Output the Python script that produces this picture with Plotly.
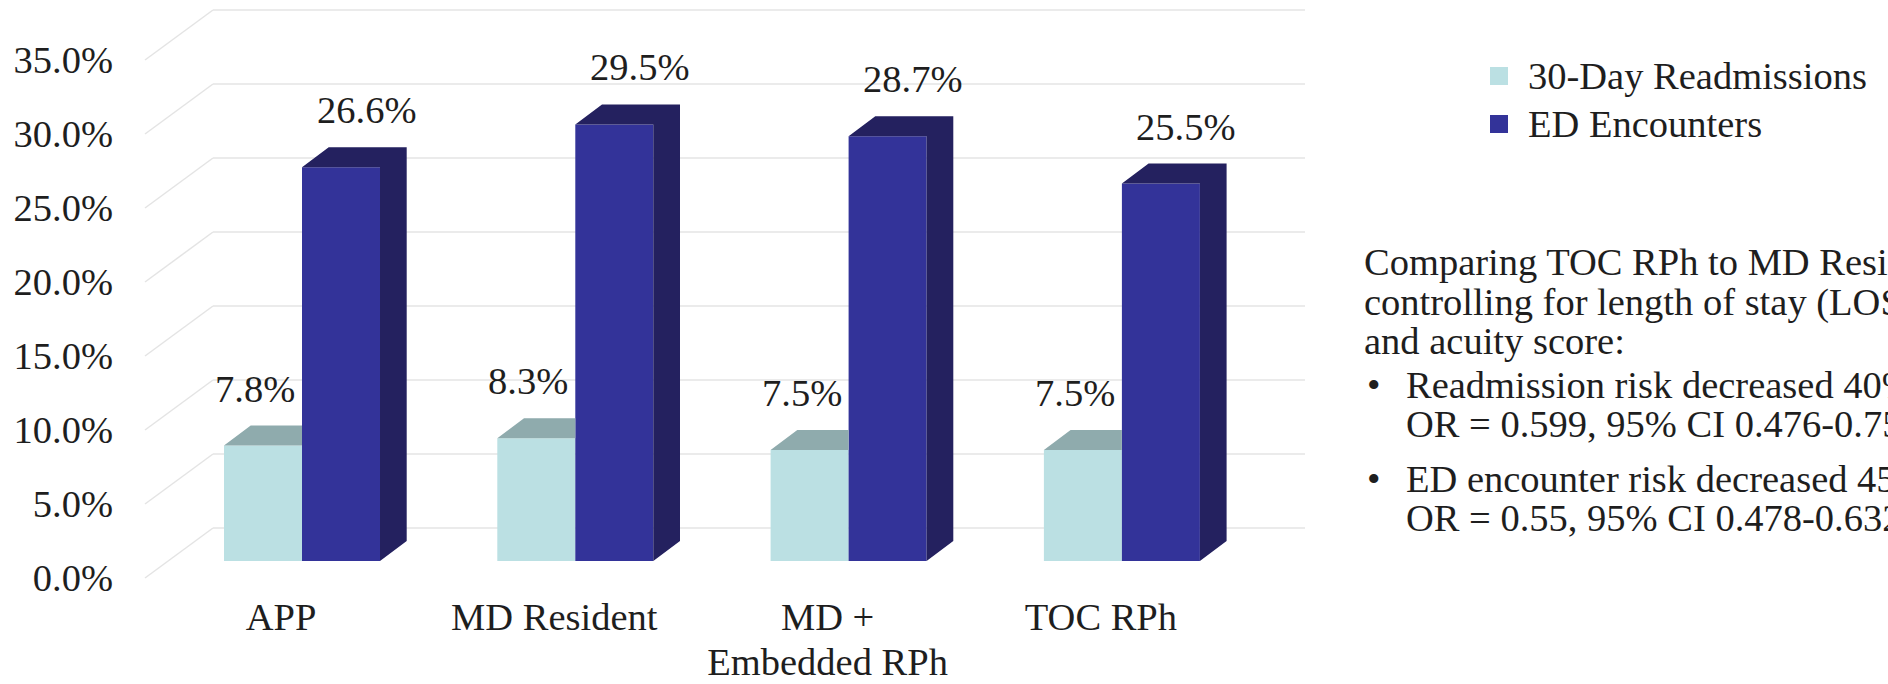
import plotly.graph_objects as go

# ---- data -------------------------------------------------------------
categories = [["APP"], ["MD Resident"], ["MD +", "Embedded RPh"], ["TOC RPh"]]
readmissions = [7.8, 8.3, 7.5, 7.5]          # 30-Day Readmissions (%)
ed_encounters = [26.6, 29.5, 28.7, 25.5]     # ED Encounters (%)
y_ticks = [0, 5, 10, 15, 20, 25, 30, 35]
series_names = ["30-Day Readmissions", "ED Encounters"]

notes_intro = ["Comparing TOC RPh to MD Resident,",
               "controlling for length of stay (LOS)",
               "and acuity score:"]
notes_bullets = [["Readmission risk decreased 40%,",
                  "OR = 0.599, 95% CI 0.476-0.755"],
                 ["ED encounter risk decreased 45%,",
                  "OR = 0.55, 95% CI 0.478-0.632"]]

# ---- style / layout geometry (pixels) ---------------------------------
W, H = 1888, 684
FONT = "Liberation Serif, Times New Roman, serif"
FS = 38.5
TXT = "#1e1e1e"
LIGHT, LIGHT_TOP = "#BBE0E3", "#8FABAD"
DARK, DARK_SHADE = "#333399", "#24215F"
GRID = "#E4E4E4"

PLOT_L, PLOT_R, PLOT_T, PLOT_B = 120, 1320, 0, 594
BASE_Y = 561            # pixel row of the 0 % level on the bar plane
PX_PER_PCT = 14.8
GROUP0_X = 302          # pixel column of the first group centre
GROUP_STEP = 273.3
BAR_W_PX = 78
BAR_DEPTH = (26.7, -20)  # receding offset of a bar (px)
FRONT_OFF = (-23, 17)    # label plane relative to bar plane (px)
BACK_OFF = (45, -33)     # back wall relative to bar plane (px)
WALL_LEFT_FRONT = 145
WALL_RIGHT = 1305
CAT_LINE_GAP = 45        # line pitch of the two-line category label (px)


def dx(px):
    return px / GROUP_STEP


def dy(px):
    return -px / PX_PER_PCT


def px_x(p):
    return (p - GROUP0_X) / GROUP_STEP


x_range = [px_x(PLOT_L), px_x(PLOT_R)]
y_range = [dy(PLOT_B - BASE_Y), dy(PLOT_T - BASE_Y)]
bw = dx(BAR_W_PX)
ddx, ddy = dx(BAR_DEPTH[0]), dy(BAR_DEPTH[1])
idx = list(range(len(categories)))

# category tick text: outer size sets the line pitch, inner span the glyph size
cat_outer = CAT_LINE_GAP / 1.3
cat_text = ["<br>".join(f'<span style="font-size:{FS}px">{ln}</span>' for ln in c)
            for c in categories]

fig = go.Figure()

# front faces
fig.add_trace(go.Bar(x=idx, y=readmissions, width=bw, offset=-bw, name=series_names[0],
                     marker=dict(color=LIGHT, line=dict(width=0)), showlegend=False))
fig.add_trace(go.Bar(x=idx, y=ed_encounters, width=bw, offset=0, name=series_names[1],
                     marker=dict(color=DARK, line=dict(width=0)), showlegend=False))

# receding faces of the bars
light_top_x, light_top_y = [], []
for i, v in zip(idx, readmissions):
    x0, x1 = i - bw, i
    light_top_x += [x0, x1, x1, x0 + ddx, x0, None]
    light_top_y += [v, v, v + ddy, v + ddy, v, None]
dark_top_x, dark_top_y = [], []
for i, v in zip(idx, ed_encounters):
    x0, x1 = i, i + bw
    dark_top_x += [x0, x1, x1 + ddx, x0 + ddx, x0, None]
    dark_top_y += [v, v, v + ddy, v + ddy, v, None]
    dark_top_x += [x1, x1, x1 + ddx, x1 + ddx, x1, None]
    dark_top_y += [0, v, v + ddy, ddy, 0, None]

for xs, ys, col in [(light_top_x, light_top_y, LIGHT_TOP), (dark_top_x, dark_top_y, DARK_SHADE)]:
    fig.add_trace(go.Scatter(x=xs, y=ys, mode="lines", fill="toself", fillcolor=col,
                             line=dict(width=0, color=col), hoverinfo="skip", showlegend=False))

# axis carrying the value labels on the front plane
fig.add_trace(go.Scatter(x=[None], y=[None], yaxis="y2", showlegend=False, hoverinfo="skip"))

# back wall grid + side wall diagonals
shapes = []
bx, by = dx(BACK_OFF[0]), dy(BACK_OFF[1])
fx, fy = dx(FRONT_OFF[0]), dy(FRONT_OFF[1])
left_front = px_x(WALL_LEFT_FRONT)
left_back = left_front + (bx - fx)
for t in y_ticks:
    shapes.append(dict(type="line", xref="x", yref="y", layer="below",
                       x0=left_front, y0=t + fy, x1=left_back, y1=t + by,
                       line=dict(color=GRID, width=1.5)))
    shapes.append(dict(type="line", xref="x", yref="y", layer="below",
                       x0=left_back, y0=t + by, x1=px_x(WALL_RIGHT), y1=t + by,
                       line=dict(color=GRID, width=1.5)))

# value labels above the bars
annotations = []
for i, v in zip(idx, readmissions):
    annotations.append(dict(x=i - bw / 2, y=v + ddy, xref="x", yref="y", text=f"{v:.1f}%",
                            showarrow=False, xshift=-8, yshift=37, yanchor="middle",
                            font=dict(family=FONT, size=FS, color=TXT)))
for i, v in zip(idx, ed_encounters):
    annotations.append(dict(x=i + bw / 2, y=v + ddy, xref="x", yref="y", text=f"{v:.1f}%",
                            showarrow=False, xshift=25, yshift=37, yanchor="middle",
                            font=dict(family=FONT, size=FS, color=TXT)))


def pxp(p):
    return (p - PLOT_L) / (PLOT_R - PLOT_L)


def pyp(p):
    return (PLOT_B - p) / (PLOT_B - PLOT_T)


# legend
for k, (name, col) in enumerate(zip(series_names, [LIGHT, DARK])):
    cy = 76 + 48 * k
    shapes.append(dict(type="rect", xref="paper", yref="paper",
                       x0=pxp(1490), x1=pxp(1508), y0=pyp(cy - 9), y1=pyp(cy + 9),
                       fillcolor=col, line=dict(width=0)))
    annotations.append(dict(x=pxp(1526), y=pyp(cy), xref="paper", yref="paper", text=name,
                            xanchor="left", yanchor="middle", showarrow=False,
                            font=dict(family=FONT, size=FS, color=TXT)))

# notes beside the chart
line_y = [262, 302, 341]
for s, yy in zip(notes_intro, line_y):
    annotations.append(dict(x=pxp(1362), y=pyp(yy), xref="paper", yref="paper", text=s,
                            xanchor="left", yanchor="middle", showarrow=False,
                            font=dict(family=FONT, size=FS, color=TXT)))
for lines, y0 in zip(notes_bullets, [385, 479]):
    annotations.append(dict(x=pxp(1373), y=pyp(y0), xref="paper", yref="paper", text="•",
                            xanchor="center", yanchor="middle", showarrow=False,
                            font=dict(family=FONT, size=FS, color=TXT)))
    for j, s in enumerate(lines):
        annotations.append(dict(x=pxp(1404), y=pyp(y0 + 39 * j), xref="paper", yref="paper", text=s,
                                xanchor="left", yanchor="middle", showarrow=False,
                                font=dict(family=FONT, size=FS, color=TXT)))

fig.update_layout(
    width=W, height=H, autosize=False,
    margin=dict(l=PLOT_L, r=W - PLOT_R, t=PLOT_T, b=H - PLOT_B, pad=0, autoexpand=False),
    paper_bgcolor="white", plot_bgcolor="white",
    showlegend=False, barmode="overlay",
    font=dict(family=FONT, size=FS, color=TXT),
    xaxis=dict(range=x_range, tickvals=idx, ticktext=cat_text, showgrid=False,
               zeroline=False, showline=False, ticks="", ticklabelshift=-21,
               automargin=False, tickfont=dict(family=FONT, size=cat_outer, color=TXT),
               fixedrange=True),
    yaxis=dict(range=y_range, visible=False, automargin=False, fixedrange=True),
    yaxis2=dict(range=[y_range[0] - fy, y_range[1] - fy], overlaying="y", side="left",
                tickvals=y_ticks, ticktext=[f"{t:.1f}%" for t in y_ticks],
                showgrid=False, zeroline=False, showline=False, ticks="",
                ticklabelstandoff=6,
                automargin=False, tickfont=dict(family=FONT, size=FS, color=TXT),
                fixedrange=True),
    shapes=shapes, annotations=annotations,
)

fig.write_html("out.html")
